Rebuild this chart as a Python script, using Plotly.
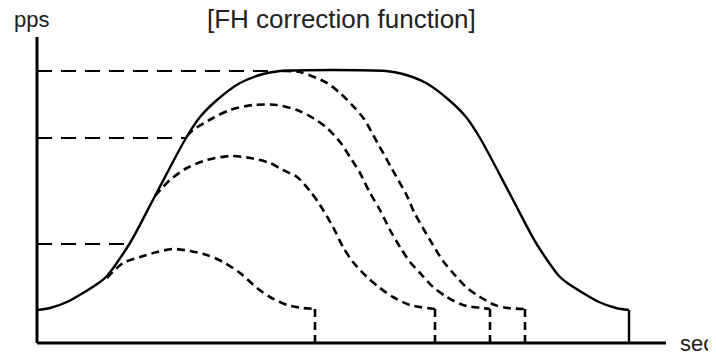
import plotly.graph_objects as go

# ---- data (x: time units, y: pps units) ----
main_x = [0.0, 1.3, 3.0, 4.6, 6.3, 7.0, 9.3, 11.8, 14.9, 16.3, 18.0, 20.3, 22.6, 24.3,
          34.9, 36.6, 38.9, 41.2, 42.9, 44.3, 47.4, 49.9, 52.2, 52.9, 54.6, 56.2, 57.9, 59.2]
main_y = [3.3, 3.5, 4.1, 5.0, 6.1, 6.7, 10.0, 14.7, 20.5, 22.6, 24.3, 26.0, 26.9, 27.2,
          27.2, 26.9, 26.0, 24.3, 22.6, 20.5, 14.7, 10.0, 6.7, 6.1, 5.0, 4.1, 3.5, 3.3]

fh1_x = [24.6, 26.3, 29.0, 30.3, 31.6, 32.7, 34.0, 35.5, 37.0, 37.7, 39.3, 40.6, 41.6, 42.9, 44.3, 45.8, 47.1, 48.8]
fh1_y = [27.2, 27.1, 26.0, 25.0, 23.7, 22.4, 20.1, 17.4, 14.7, 13.1, 10.3, 8.2, 7.0, 5.6, 4.6, 3.8, 3.5, 3.4]

fh2_x = [15.0, 15.6, 17.6, 19.3, 21.6, 24.0, 26.0, 27.6, 29.0, 30.3, 31.3, 32.3, 33.3, 34.3, 35.3, 36.3, 37.3, 38.3, 39.6, 41.0, 42.6, 45.3]
fh2_y = [20.7, 21.3, 22.5, 23.3, 23.8, 23.8, 23.3, 22.5, 21.5, 20.1, 18.6, 17.0, 15.0, 13.3, 11.3, 9.6, 8.1, 7.0, 5.6, 4.6, 3.8, 3.4]

fh3_x = [11.8, 13.3, 15.0, 17.0, 19.3, 21.3, 23.3, 24.6, 26.0, 27.3, 28.3, 29.6, 30.6, 31.6, 33.0, 34.3, 35.6, 37.3, 39.8]
fh3_y = [14.7, 16.3, 17.5, 18.3, 18.7, 18.5, 18.0, 17.3, 16.6, 15.2, 13.8, 11.6, 9.6, 8.1, 6.6, 5.5, 4.6, 3.8, 3.4]

fh4_x = [7.0, 8.6, 10.3, 12.0, 13.6, 15.3, 17.0, 18.6, 20.3, 22.0, 23.3, 25.0, 26.6, 27.8]
fh4_y = [6.5, 8.0, 8.6, 9.1, 9.4, 9.2, 8.8, 8.1, 7.0, 5.5, 4.6, 3.8, 3.5, 3.4]

# reference speed levels and where their guide lines end
level_y = [27.2, 20.5, 9.9]
level_end_x = [24.3, 15.0, 9.6]

T_AXIS_END = 62.9
V_AXIS_END = 30.6

title_text = "[FH correction function]"
y_label = "pps"
x_label = "sec"

fig = go.Figure()

# guide lines (long dashes)
for ly, lx in zip(level_y, level_end_x):
    fig.add_trace(go.Scatter(x=[0, lx], y=[ly, ly], mode="lines",
                             line=dict(color="black", width=2, dash="15px,9px")))

# FH corrected profiles (short dashes)
for xs, ys in [(fh1_x, fh1_y), (fh2_x, fh2_y), (fh3_x, fh3_y), (fh4_x, fh4_y)]:
    fig.add_trace(go.Scatter(x=xs, y=ys, mode="lines",
                             line=dict(color="black", width=2.6, dash="8px,5px", shape="spline", smoothing=0.8)))
    fig.add_trace(go.Scatter(x=[xs[-1], xs[-1]], y=[ys[-1], 0], mode="lines",
                             line=dict(color="black", width=2.6, dash="8px,5px")))

# main profile (solid)
fig.add_trace(go.Scatter(x=main_x, y=main_y, mode="lines",
                         line=dict(color="black", width=2.4, shape="spline", smoothing=0.8)))
fig.add_trace(go.Scatter(x=[main_x[-1], main_x[-1]], y=[main_y[-1], 0], mode="lines",
                         line=dict(color="black", width=2.4)))

# axes
fig.add_trace(go.Scatter(x=[0, 0], y=[V_AXIS_END, 0], mode="lines", line=dict(color="black", width=3)))
fig.add_trace(go.Scatter(x=[0, T_AXIS_END], y=[0, 0], mode="lines", line=dict(color="black", width=3)))

# the page body has an 8px margin: the figure starts at (8, 8) in the window
OFF = 8
W, H = 716 - OFF, 355 - OFF


def px(x):
    return (x - OFF) / W


def py(y):
    return 1 - (y - OFF) / H


fig.add_annotation(text=y_label, xref="paper", yref="paper", x=px(12), y=py(19),
                   xanchor="left", yanchor="middle", showarrow=False,
                   font=dict(family="Liberation Sans, Arial", size=22, color="#222"))
fig.add_annotation(text=title_text, xref="paper", yref="paper", x=px(341), y=py(19),
                   xanchor="center", yanchor="middle", showarrow=False,
                   font=dict(family="Liberation Sans, Arial", size=26, color="#222"))
fig.add_annotation(text=x_label, xref="paper", yref="paper", x=px(678), y=py(343),
                   xanchor="left", yanchor="middle", showarrow=False,
                   font=dict(family="Liberation Sans, Arial", size=22, color="#222"))

x0_pix, y0_pix = 37 - OFF, 343 - OFF
fig.update_layout(
    width=W, height=H, autosize=False,
    margin=dict(l=0, r=0, t=0, b=0),
    paper_bgcolor="white", plot_bgcolor="white",
    showlegend=False,
    xaxis=dict(range=[-x0_pix / 10, (W - x0_pix) / 10], visible=False, fixedrange=True),
    yaxis=dict(range=[-(H - y0_pix) / 10, y0_pix / 10], visible=False, fixedrange=True),
)

fig.write_html("out.html", config={"displayModeBar": False})
